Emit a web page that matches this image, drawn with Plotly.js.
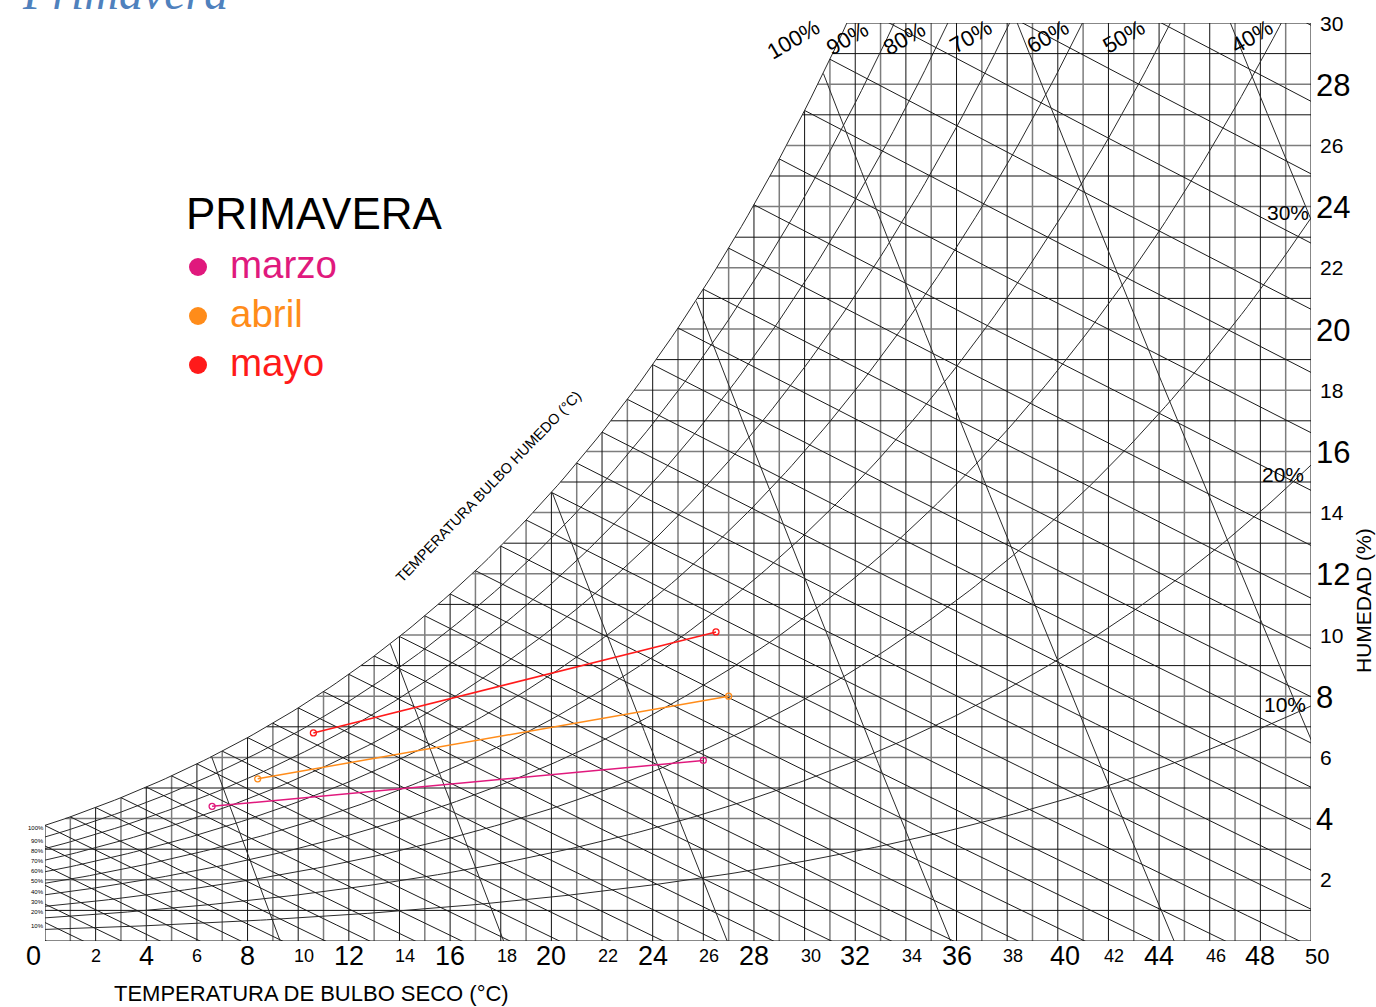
<!DOCTYPE html>
<html><head><meta charset="utf-8">
<script src="https://cdn.plot.ly/plotly-3.0.1.min.js"></script>
<style>html,body{margin:0;padding:0;background:#fff;} #chart{width:1376px;height:1007px;}</style>
</head><body><div id="chart"></div>
<script>
// ---------- data ----------
const months = ['marzo', 'abril', 'mayo'];
const monthColors = ['#e0197d', '#ff8c1a', '#ff1a1a'];
const marzoT = [6.6, 26.0];
const marzoW = [4.4, 5.9];
const abrilT = [8.4, 27.0];
const abrilW = [5.3, 8.0];
const mayoT = [10.6, 26.5];
const mayoW = [6.8, 10.1];

const rhLevels = [10, 20, 30, 40, 50, 60, 70, 80, 90, 100];
const wetBulbLevels = [-10,-9,-8,-7,-6,-5,-4,-3,-2,-1,0,1,2,3,4,5,6,7,8,9,10,11,12,13,14,15,16,17,18,19,20,21,22,23,24,25,26,27,28,29,30,31,32,33,34,35,36,37,38,39,40];
const volumeLevels = [0.800, 0.825, 0.850, 0.875, 0.900, 0.925, 0.950];
const dryBulbGrid = [0,1,2,3,4,5,6,7,8,9,10,11,12,13,14,15,16,17,18,19,20,21,22,23,24,25,26,27,28,29,30,31,32,33,34,35,36,37,38,39,40,41,42,43,44,45,46,47,48,49,50];
const humidityGrid = [0,1,2,3,4,5,6,7,8,9,10,11,12,13,14,15,16,17,18,19,20,21,22,23,24,25,26,27,28,29,30];
const xTickLabels = [0,2,4,6,8,10,12,14,16,18,20,22,24,26,28,30,32,34,36,38,40,42,44,46,48,50];
const yTickLabels = [2,4,6,8,10,12,14,16,18,20,22,24,26,28,30];
const topRhLabels = ['100%','90%','80%','70%','60%','50%','40%'];
const rightRhLabels = ['30%','20%','10%'];
const leftRhLabels = ['100%','90%','80%','70%','60%','50%','40%','30%','20%','10%'];

// ---------- psychrometrics ----------
const P = 101.325;
function pws(T){ return 0.61094*Math.exp(17.625*T/(T+243.04)); }
function Wsat(T, phi){ phi = phi===undefined?1:phi; const pw = phi*pws(T); return 622*pw/(P-pw); }
function Tsat(W){ let a=-30,b=70; for(let i=0;i<60;i++){ const m=(a+b)/2; if(Wsat(m)<W) a=m; else b=m; } return (a+b)/2; }
function Wwb(T, Twb){ const ws=Wsat(Twb)/1000; const w=((2501-2.326*Twb)*ws-1.006*(T-Twb))/(2501+1.86*T-4.186*Twb); return w*1000; }
function Tvol(v, W){ return v*P/(0.287*(1+1.6078*W/1000))-273.15; }

// ---------- geometry helpers (plot area) ----------
const ML=45, MR=65, MT=23, MB=66, FW=1376, FH=1007;
const PW=FW-ML-MR, PH=FH-MT-MB;
function xd(px){ return (px-ML)/PW*50; }       // pixel -> °C
function yd(py){ return (FH-MB-py)/PH*30; }    // pixel -> g/kg
function xp(px){ return (px-ML)/PW; }          // pixel -> paper
function yp(py){ return (FH-MB-py)/PH; }

const traces = [];

// grid
const gBx=[],gBy=[],gGx=[],gGy=[];
dryBulbGrid.forEach(T=>{
  const top=Math.min(30,Wsat(T));
  const black=(T%2===0);
  (black?gBx:gGx).push(T,T,null);
  (black?gBy:gGy).push(0,top,null);
});
humidityGrid.forEach(W=>{
  const x0=Math.max(0,Tsat(W));
  const black=(W%2===1)||W===0||W===30;
  (black?gBx:gGx).push(x0,50,null);
  (black?gBy:gGy).push(W,W,null);
});
traces.push({x:gGx,y:gGy,mode:'lines',line:{color:'#7d7d7d',width:1.5},hoverinfo:'skip',showlegend:false});
traces.push({x:gBx,y:gBy,mode:'lines',line:{color:'#111',width:1},hoverinfo:'skip',showlegend:false});

// RH curves
const rx=[],ry=[];
rhLevels.forEach(rh=>{
  for(let T=-1;T<=50.001;T+=0.25){ rx.push(T); ry.push(Wsat(T,rh/100)); }
  rx.push(null); ry.push(null);
});
traces.push({x:rx,y:ry,mode:'lines',line:{color:'#2a2a2a',width:1},hoverinfo:'skip',showlegend:false});

// wet bulb lines
const wx=[],wy=[];
wetBulbLevels.forEach(tw=>{
  for(let T=tw;T<=50.001;T+=0.5){ const w=Wwb(T,tw); wx.push(T); wy.push(w); if(w<-1) break; }
  wx.push(null); wy.push(null);
});
traces.push({x:wx,y:wy,mode:'lines',line:{color:'#1a1a1a',width:1},hoverinfo:'skip',showlegend:false});

// specific volume lines
const vx=[],vy=[];
volumeLevels.forEach(v=>{
  for(let W=0;W<=31;W+=0.05){ const T=Tvol(v,W); if(Wsat(T)<W) break; vx.push(T); vy.push(W); }
  vx.push(null); vy.push(null);
});
traces.push({x:vx,y:vy,mode:'lines',line:{color:'#2a2a2a',width:1},hoverinfo:'skip',showlegend:false});

// data series
const seriesT=[marzoT,abrilT,mayoT], seriesW=[marzoW,abrilW,mayoW];
months.forEach((m,i)=>{
  traces.push({x:seriesT[i],y:seriesW[i],name:m,mode:'lines+markers',
    line:{color:monthColors[i],width:1.5},marker:{symbol:'circle-open',size:6,color:monthColors[i],line:{width:1.3}},showlegend:false});
});

// ---------- annotations ----------
const ann=[];
const F='Liberation Sans, Arial, sans-serif';
xTickLabels.forEach(v=>{
  const big=(v%4===0);
  let size=big?27:18, shift=0;
  if(!big && v>=10) shift=6;
  if(v===0) shift=-12;
  if(v===40) shift=7;
  if(v===50){ size=22; shift=6; }
  ann.push({x:v,y:0,xref:'x',yref:'paper',text:String(v),showarrow:false,xanchor:'center',yanchor:'middle',
    xshift:shift,yshift:-15,font:{family:F,size:size,color:'#000'}});
});
yTickLabels.forEach(v=>{
  const big=(v%4===0);
  ann.push({x:1,y:v,xref:'paper',yref:'y',text:String(v),showarrow:false,xanchor:'left',yanchor:'middle',
    xshift:big?3:7,yshift:big?-1:0,font:{family:F,size:big?31:21,color:'#000'}});
});
// axis titles
ann.push({x:xp(311),y:yp(993),xref:'paper',yref:'paper',text:'TEMPERATURA DE BULBO SECO (°C)',showarrow:false,
  xanchor:'center',yanchor:'middle',font:{family:F,size:22,color:'#000'}});
ann.push({x:xp(1363),y:yp(601),xref:'paper',yref:'paper',text:'HUMEDAD (%)',showarrow:false,textangle:-90,
  xanchor:'center',yanchor:'middle',borderpad:0,font:{family:F,size:21,color:'#000'}});
ann.push({x:xd(488),y:yd(487),xref:'x',yref:'y',text:'TEMPERATURA BULBO HUMEDO (°C)',showarrow:false,textangle:-46,
  xanchor:'center',yanchor:'middle',font:{family:F,size:14.5,color:'#000'}});
// RH labels top
const topPos=[[793,39],[847,38],[904,38],[971,37],[1048,37],[1124,37],[1252,37]];
topRhLabels.forEach((t,i)=>{
  ann.push({x:xp(topPos[i][0]),y:yp(topPos[i][1]),xref:'paper',yref:'paper',text:t,showarrow:false,textangle:-30,
    xanchor:'center',yanchor:'middle',font:{family:F,size:22,color:'#000'}});
});
const rightPos=[[1288,212],[1283,475],[1285,704]];
rightRhLabels.forEach((t,i)=>{
  ann.push({x:xp(rightPos[i][0]),y:yp(rightPos[i][1]),xref:'paper',yref:'paper',text:t,showarrow:false,
    xanchor:'center',yanchor:'middle',font:{family:F,size:21,color:'#000'}});
});
const leftY=[828,841,851,861,871,881,892,902,912,926];
leftRhLabels.forEach((t,i)=>{
  ann.push({x:0,y:yd(leftY[i]),xref:'x',yref:'y',text:t,showarrow:false,xanchor:'right',yanchor:'middle',
    xshift:1,font:{family:F,size:6,color:'#000'}});
});
// legend block
ann.push({x:xp(184),y:yp(213),xref:'paper',yref:'paper',text:'PRIMAVERA',showarrow:false,xanchor:'left',yanchor:'middle',
  font:{family:F,size:44,color:'#000'}});
const legY=[264,313,362];
const shapes=[];
months.forEach((m,i)=>{
  ann.push({x:xp(228),y:yp(legY[i]),xref:'paper',yref:'paper',text:m,showarrow:false,xanchor:'left',yanchor:'middle',
    font:{family:F,size:38.5,color:monthColors[i]}});
  shapes.push({type:'circle',xref:'paper',yref:'paper',xsizemode:'pixel',ysizemode:'pixel',
    xanchor:xp(198),yanchor:yp(legY[i]+3),x0:-9,x1:9,y0:-9,y1:9,fillcolor:monthColors[i],line:{width:0}});
});
// page title (cut off at top, as in the reference)
ann.push({x:xp(20),y:1,xref:'paper',yref:'paper',text:'<i>Primavera</i>',showarrow:false,xanchor:'left',yanchor:'bottom',
  yshift:2,font:{family:'Liberation Serif, Times New Roman, serif',size:48,color:'#4f81bd'}});

const layout={
  width:FW,height:FH,margin:{l:ML,r:MR,t:MT,b:MB,pad:0},
  paper_bgcolor:'#fff',plot_bgcolor:'rgba(0,0,0,0)',
  xaxis:{range:[0,50],showgrid:false,zeroline:false,showticklabels:false,ticks:'',showline:false,fixedrange:true},
  yaxis:{range:[0,30],showgrid:false,zeroline:false,showticklabels:false,ticks:'',showline:false,fixedrange:true},
  annotations:ann,shapes:shapes,showlegend:false
};
Plotly.newPlot('chart',traces,layout,{displayModeBar:false,staticPlot:true});
</script></body></html>
